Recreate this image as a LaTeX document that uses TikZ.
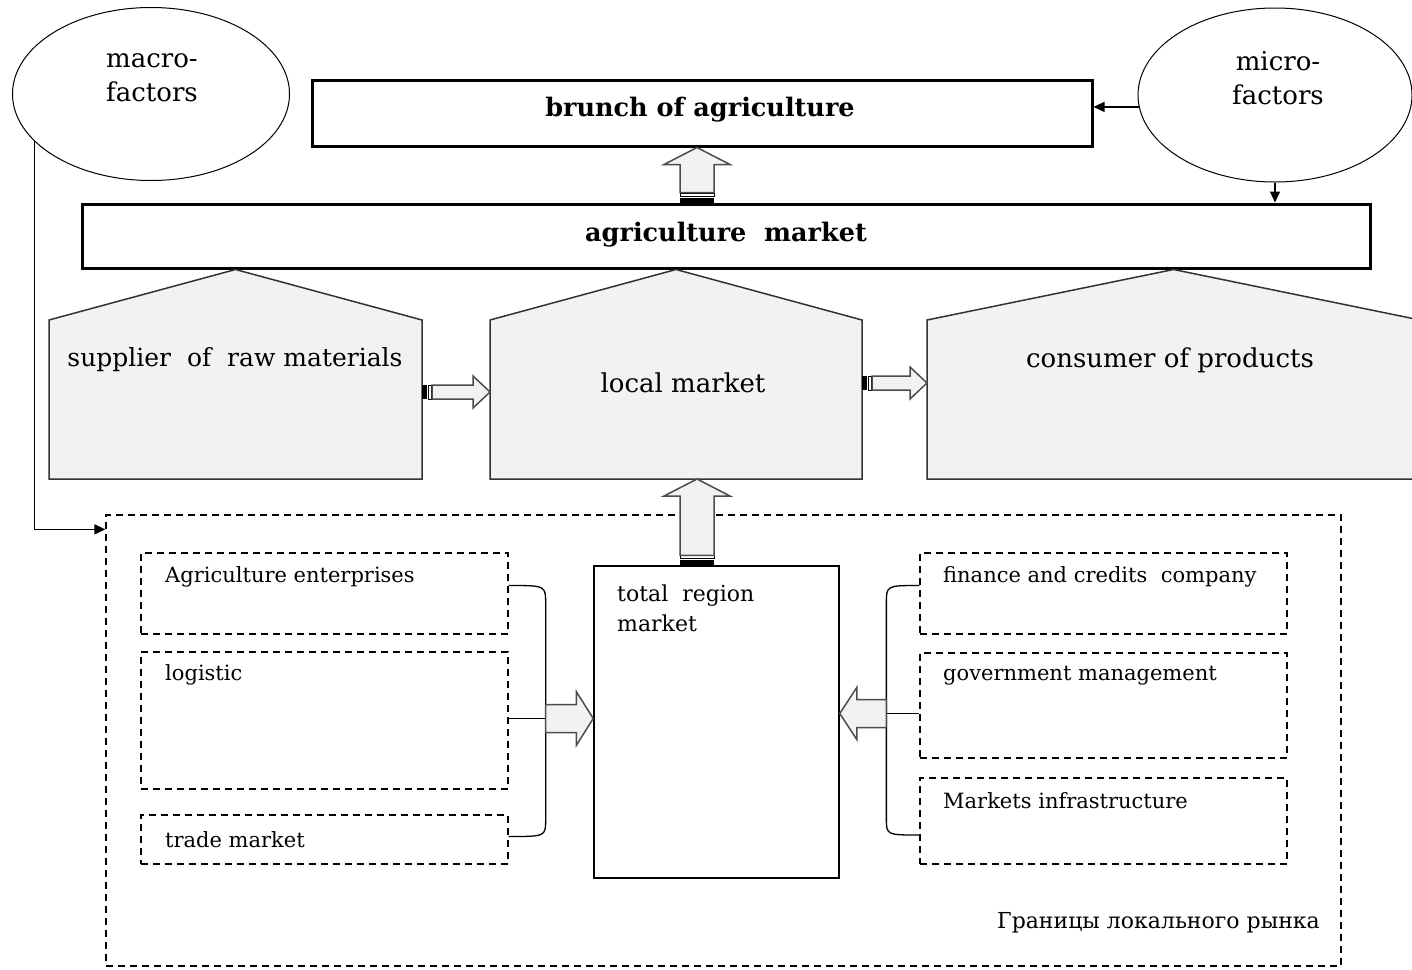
\documentclass[tikz,border=0pt]{standalone}
\usepackage{fontspec}
\setmainfont{DejaVu Serif}
\usetikzlibrary{calc,shapes.geometric,arrows.meta}

\newcommand{\blockarr}[5]{%
  \coordinate (ba0) at (#1);
  \coordinate (ba1) at (#2);
  \coordinate (bas) at ($(ba0)!#5!(ba1)$);
  \coordinate (bah) at ($(ba1)!17pt!(ba0)$);
  \filldraw[blockfill] ($(bas)!#3!90:(ba1)$) -- ($(bah)!#3!-90:(ba0)$)
    -- ($(bah)!#4!-90:(ba0)$) -- (ba1) -- ($(bah)!#4!90:(ba0)$)
    -- ($(bah)!#3!90:(ba0)$) -- ($(bas)!#3!-90:(ba1)$) -- cycle;
}
\newcommand{\arrbase}[3]{%
  \coordinate (ba0) at (#1);
  \coordinate (ba1) at (#2);
  \coordinate (bat) at ($(ba0)!5pt!(ba1)$);
  \coordinate (bab) at ($(ba0)!6.5pt!(ba1)$);
  \coordinate (bac) at ($(ba0)!9.5pt!(ba1)$);
  \fill ($(ba0)!#3!90:(ba1)$) -- ($(bat)!#3!-90:(ba0)$) -- ($(bat)!#3!90:(ba0)$) -- ($(ba0)!#3!-90:(ba1)$) -- cycle;
  \draw[line width=1pt, fill=white] ($(bab)!#3!90:(ba1)$) -- ($(bac)!#3!-90:(ba0)$) -- ($(bac)!#3!90:(ba0)$) -- ($(bab)!#3!-90:(ba1)$) -- cycle;
}

\begin{document}
\begin{tikzpicture}[x=1pt, y=-1pt,
  thickbox/.style={draw, line width=3pt, inner sep=0},
  hbody/.style={inner sep=0, outer sep=0},
  house/.style={draw=black!80, fill=gray!10, line width=1.5pt},
  dbox/.style={draw, dash pattern=on 7pt off 5pt, line width=1.3pt, minimum width=367pt, inner sep=0},
  factor/.style={draw, ellipse, line width=1pt, inner sep=0},
  txt/.style={font=\fontsize{21}{25}\selectfont, inner sep=0, anchor=west},
  big/.style={font=\fontsize{26}{34}\selectfont, inner sep=0, align=center},
  head/.style={font=\fontsize{25.5}{30}\selectfont\bfseries, inner sep=0},
  blockfill/.style={draw=black!70, fill=gray!10, line width=1.5pt, line join=miter},
  arr/.style={-{Triangle[length=11pt, width=10pt]}, line width=1.3pt},
  brace/.style={line width=1.3pt}]
  \useasboundingbox (0,0) rectangle (1412,969);
  \clip (0,0) rectangle (1412,969);

  \node[draw, dash pattern=on 7pt off 5pt, line width=1.3pt, minimum width=1235pt, minimum height=451pt] (outer) at (723.5,740.5) {};
  \node[txt, anchor=east, font=\fontsize{22}{26}\selectfont] (border) at (1320,923) {Границы локального рынка};

  \node[factor, minimum width=277pt, minimum height=173pt] (macro) at (151,94) {};
  \node[big] (macrotxt) at (152,78) {macro-\\factors};
  \node[factor, minimum width=274pt, minimum height=174pt] (micro) at (1275,95) {};
  \node[big] (microtxt) at (1278,78) {micro-\\factors};

  \node[thickbox, minimum width=780pt, minimum height=66pt] (brunch) at (702,113) {};
  \node[head] (brunchtxt) at (700,110) {brunch of agriculture};
  \node[thickbox, minimum width=1288pt, minimum height=64pt] (market) at (726,236) {};
  \node[head] (markettxt) at (726,235) {agriculture\ \ market};

  \node[hbody, minimum width=373pt, minimum height=159pt] (sup) at (235.5,399.5) {};
  \node[hbody, minimum width=372pt, minimum height=159pt] (local) at (676,399.5) {};
  \node[hbody, minimum width=493pt, minimum height=159pt] (con) at (1173.5,399.5) {};
  \foreach \h in {sup, local, con}
    \filldraw[house] (\h.south west) -- (\h.north west) -- (\h.north |- market.south) -- (\h.north east) -- (\h.south east) -- cycle;
  \node[big, font=\fontsize{25}{34}\selectfont] (suptxt) at (235,360) {supplier\ \ of\ \ raw materials};
  \node[big] (localtxt) at (683,383) {local market};
  \node[big] (contxt) at (1170,360) {consumer of products};

  \node[dbox, minimum height=81pt] (agr) at (324.5,593.5) {};
  \node[dbox, minimum height=137pt] (logi) at (324.5,720.5) {};
  \node[dbox, minimum height=49pt] (trade) at (324.5,839.5) {};
  \node[dbox, minimum height=81pt] (fin) at (1103.5,593.5) {};
  \node[dbox, minimum height=105pt] (gov) at (1103.5,705.5) {};
  \node[dbox, minimum height=86pt] (infra) at (1103.5,821) {};
  \node[txt] (agrtxt) at (165,577) {Agriculture enterprises};
  \node[txt] (logitxt) at (165,675) {logistic};
  \node[txt] (tradetxt) at (165,840) {trade market};
  \node[txt] (fintxt) at (943,577) {finance and credits\ \ company};
  \node[txt] (govtxt) at (943,676) {government management};
  \node[txt] (infratxt) at (943,801) {Markets infrastructure};

  \node[draw, line width=1.5pt, minimum width=245pt, minimum height=312pt] (total) at (716.5,722) {};
  \node[txt, anchor=north west, align=left, font=\fontsize{22}{30}\selectfont] (totaltxt) at (617,585) {total\ \ region\\market};

  \coordinate (lbx) at ($(logi.east)+(37,-2)$);
  \draw[brace] ($(agr.east)+(0,-8)$) .. controls ($(lbx |- agr.east)+(0,-8)$) .. ($(lbx |- agr.east)+(0,10)$)
    -- ($(lbx |- trade.east)+(0,-20)$) .. controls ($(lbx |- trade.east)+(0,-3)$) .. ($(trade.east)+(0,-3)$);
  \draw[brace] (logi.east |- lbx) -- (lbx);
  \blockarr{lbx}{lbx -| total.west}{14pt}{27pt}{0pt}

  \coordinate (rbx) at ($(gov.west)+(-33,8)$);
  \draw[brace] ($(fin.west)+(0,-8)$) .. controls ($(rbx |- fin.west)+(0,-8)$) .. ($(rbx |- fin.west)+(0,10)$)
    -- ($(rbx |- infra.west)+(0,-3)$) .. controls ($(rbx |- infra.west)+(0,14)$) .. ($(infra.west)+(0,14)$);
  \draw[brace] (rbx) -- (rbx -| gov.west);
  \blockarr{rbx}{rbx -| total.east}{14pt}{26pt}{0pt}

  \coordinate (h1) at ($(sup.east)+(0,-7.5)$);
  \arrbase{h1}{h1 -| local.west}{7pt}
  \blockarr{h1}{h1 -| local.west}{7pt}{16pt}{10pt}
  \coordinate (h2) at ($(local.east)+(0,-16.5)$);
  \arrbase{h2}{h2 -| con.west}{7pt}
  \blockarr{h2}{h2 -| con.west}{7pt}{16pt}{10pt}

  \coordinate (u0) at (697,0);
  \arrbase{u0 |- market.north}{u0 |- brunch.south}{17pt}
  \blockarr{u0 |- market.north}{u0 |- brunch.south}{17pt}{33pt}{10pt}
  \arrbase{u0 |- total.north}{u0 |- local.south}{17pt}
  \blockarr{u0 |- total.north}{u0 |- local.south}{17pt}{33pt}{10pt}

  \draw[arr] (macro.202) |- ($(outer.north west)+(0,15)$);
  \draw[arr] (micro.185) -- (micro.185 -| brunch.east);
  \draw[arr] (micro.south) -- (micro.south |- market.north);
\end{tikzpicture}
\end{document}
